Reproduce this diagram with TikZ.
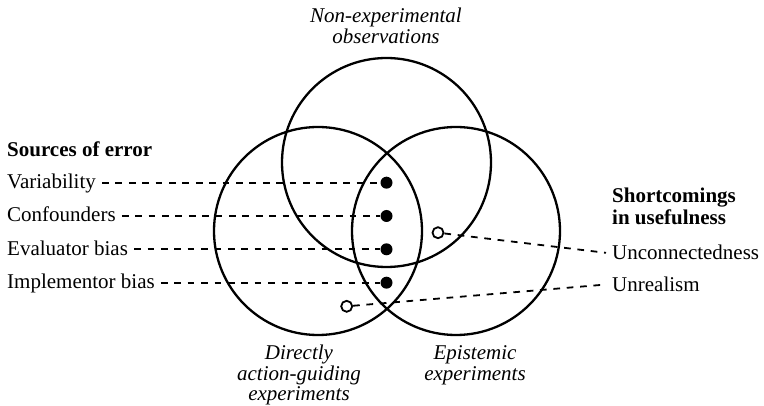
\documentclass[tikz,border=0pt]{standalone}
\usepackage{fontspec}
\setmainfont{Liberation Serif}
\begin{document}
\begin{tikzpicture}[x=1pt,y=-1pt,
  ring/.style={draw,line width=2.3pt},
  hit/.style={circle,fill=black,inner sep=0pt,minimum size=12pt},
  miss/.style={circle,draw,line width=1.8pt,fill=white,inner sep=0pt,minimum size=11pt},
  lead/.style={line width=1.8pt,dash pattern=on 6.7pt off 6.7pt},
  lbl/.style={font=\fontsize{21}{24}\selectfont,inner sep=3pt},
  head/.style={lbl,font=\fontsize{21}{24}\selectfont\bfseries},
  cat/.style={font=\fontsize{21}{24}\selectfont\itshape,inner sep=0pt,anchor=base}]
\useasboundingbox (0,0) rectangle (764,406);

% the three overlapping sets
\draw[ring] (386.5,162.5) circle[radius=104.5];
\draw[ring] (318,231) circle[radius=104];
\draw[ring] (456,231) circle[radius=104];

% set captions
\node[cat] (top1) at (386,22.7) {Non-experimental};
\node[cat] (top2) at (386,43.5) {observations};
\node[cat] (dag1) at (299,360) {Directly};
\node[cat] (dag2) at (299,380.5) {action-guiding};
\node[cat] (dag3) at (299,400) {experiments};
\node[cat] (epi1) at (475,360) {Epistemic};
\node[cat] (epi2) at (475,380.5) {experiments};

% sources of error
\node[head,anchor=base west] (src) at (4,156.7) {Sources of error};
\node[lbl,anchor=base west] (var) at (4,188.3) {Variability};
\node[lbl,anchor=base west] (con) at (4,222) {Confounders};
\node[lbl,anchor=base west] (eva) at (4,255.5) {Evaluator bias};
\node[lbl,anchor=base west] (imp) at (4,288.5) {Implementor bias};

\node[hit] (d1) at (386.5,182.7) {};
\node[hit] (d2) at (386.5,216) {};
\node[hit] (d3) at (386.5,249.3) {};
\node[hit] (d4) at (386.5,282.7) {};

\draw[lead] ([xshift=3pt]d1 -| var.east) -- (d1);
\draw[lead] ([xshift=3pt]d2 -| con.east) -- (d2);
\draw[lead] ([xshift=3pt]d3 -| eva.east) -- (d3);
\draw[lead] ([xshift=3pt]d4 -| imp.east) -- (d4);

% shortcomings in usefulness
\node[head,anchor=base west] (sh1) at (609,203) {Shortcomings};
\node[head,anchor=base west] (sh2) at (609,225) {in usefulness};
\node[lbl,anchor=base west,inner sep=6pt] (unc) at (606,260) {Unconnectedness};
\node[lbl,anchor=base west,inner sep=6pt] (unr) at (606,291.7) {Unrealism};

\node[miss] (o1) at (438,232.7) {};
\node[miss] (o2) at (346.7,306.3) {};

\draw[lead] (o1) -- (unc.west);
\draw[lead] (o2) -- (unr.west);
\end{tikzpicture}
\end{document}
